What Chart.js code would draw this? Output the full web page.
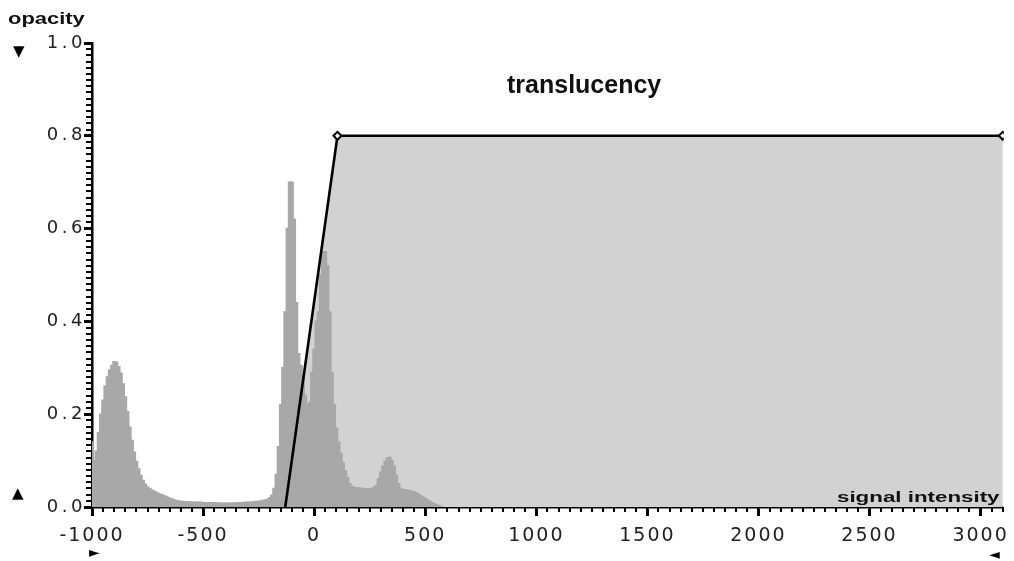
<!DOCTYPE html>
<html>
<head>
<meta charset="utf-8">
<title>translucency</title>
<script src="https://cdn.jsdelivr.net/npm/chart.js@4.4.1/dist/chart.umd.min.js"></script>
<style>
  html, body { margin: 0; padding: 0; background: #fff; }
  #wrap { position: relative; width: 1014px; height: 561px; overflow: hidden; }
  .note {
    position: absolute;
    font-family: "Liberation Sans", Arial, sans-serif;
    font-weight: bold;
    color: #111;
    line-height: 1;
    white-space: nowrap;
    transform-origin: 0 0;
  }
  .arrow {
    position: absolute;
    font-family: "DejaVu Sans", sans-serif;
    color: #000;
    line-height: 1;
  }
</style>
</head>
<body>
<div id="wrap">
  <canvas id="tfChart"></canvas>

  <div class="note" style="left:8px; top:9.6px; font-size:17px; transform:scaleX(1.29);">opacity</div>
  <div class="note" style="left:507px; top:71.8px; font-size:25px;">translucency</div>
  <div class="note" style="left:837px; top:489px; font-size:15.5px; transform:scaleX(1.44);">signal intensity</div>

  <span class="arrow" style="left:13px; top:44px; font-size:15px;">▼</span>
  <span class="arrow" style="left:12px; top:486px; font-size:15px;">▲</span>
  <span class="arrow" style="left:89px; top:545px; font-size:14px;">►</span>
  <span class="arrow" style="left:989px; top:547px; font-size:14px;">◄</span>
</div>

<script>
// ======================================================
// DATA
// ======================================================
// histogram of signal intensity: bin centres (10 wide) / relative frequency
const histIntensity = [
  -1000, -990, -980, -970, -960, -950, -940, -930, -920, -910,
  -900, -890, -880, -870, -860, -850, -840, -830, -820, -810,
  -800, -790, -780, -770, -760, -750, -740, -730, -720, -710,
  -700, -690, -680, -670, -660, -650, -640, -630, -620, -610,
  -600, -590, -580, -570, -560, -550, -540, -530, -520, -510,
  -500, -490, -480, -470, -460, -450, -440, -430, -420, -410,
  -400, -390, -380, -370, -360, -350, -340, -330, -320, -310,
  -300, -290, -280, -270, -260, -250, -240, -230, -220, -210,
  -200, -190, -180, -170, -160, -150, -140, -130, -120, -110,
  -100, -90, -80, -70, -60, -50, -40, -30, -20, -10,
  0, 10, 20, 30, 40, 50, 60, 70, 80, 90,
  100, 110, 120, 130, 140, 150, 160, 170, 180, 190,
  200, 210, 220, 230, 240, 250, 260, 270, 280, 290,
  300, 310, 320, 330, 340, 350, 360, 370, 380, 390,
  400, 410, 420, 430, 440, 450, 460, 470, 480, 490,
  500, 510, 520, 530, 540, 550, 560, 570
];
const histFrequency = [
  0.140, 0.100, 0.120, 0.160, 0.200, 0.230, 0.260, 0.280, 0.295, 0.305,
  0.313, 0.312, 0.302, 0.288, 0.265, 0.237, 0.205, 0.172, 0.143, 0.118,
  0.098, 0.082, 0.068, 0.057, 0.049, 0.043, 0.039, 0.036, 0.034, 0.031,
  0.029, 0.027, 0.025, 0.023, 0.021, 0.019, 0.017, 0.015, 0.014, 0.013,
  0.012, 0.012, 0.011, 0.011, 0.011, 0.010, 0.010, 0.010, 0.010, 0.010,
  0.009, 0.009, 0.009, 0.009, 0.009, 0.009, 0.009, 0.008, 0.008, 0.008,
  0.008, 0.008, 0.008, 0.008, 0.008, 0.009, 0.009, 0.009, 0.009, 0.010,
  0.010, 0.010, 0.010, 0.011, 0.012, 0.012, 0.013, 0.014, 0.015, 0.016,
  0.020, 0.025, 0.040, 0.070, 0.130, 0.220, 0.300, 0.420, 0.600, 0.700,
  0.700, 0.620, 0.440, 0.330, 0.305, 0.285, 0.240, 0.220, 0.225, 0.290,
  0.340, 0.400, 0.420, 0.500, 0.550, 0.550, 0.520, 0.420, 0.290, 0.220,
  0.170, 0.140, 0.115, 0.095, 0.078, 0.063, 0.050, 0.044, 0.042, 0.041,
  0.041, 0.040, 0.040, 0.039, 0.039, 0.039, 0.040, 0.042, 0.046, 0.060,
  0.075, 0.088, 0.098, 0.106, 0.107, 0.100, 0.088, 0.068, 0.050, 0.040,
  0.037, 0.037, 0.036, 0.035, 0.034, 0.032, 0.030, 0.027, 0.024, 0.021,
  0.018, 0.015, 0.012, 0.009, 0.007, 0.005, 0.003, 0.001
];

// translucency transfer function (control points)
const tfIntensity = [-130, 105, 3100];
const tfOpacity   = [0, 0.8, 0.8];

const xTickValues = [-1000, -500, 0, 500, 1000, 1500, 2000, 2500, 3000];
const yTickValues = [0, 0.2, 0.4, 0.6, 0.8, 1.0];

const xMinorStep = 50;
const yMinorStep = 0.2 / 15;


// ======================================================
// PLUGINS
// ======================================================
// small ticks between the labelled ones
const minorTicks = {
  id: "minorTicks",
  afterDraw(chart) {
    const { ctx, scales: { x, y } } = chart;
    ctx.save();
    ctx.strokeStyle = "#000";
    ctx.lineWidth = 2;

    for (let v = x.min; v <= x.max + 0.001; v += xMinorStep) {
      const px = Math.round(x.getPixelForValue(v));
      ctx.beginPath();
      ctx.moveTo(px, x.top);
      ctx.lineTo(px, x.top + 5);
      ctx.stroke();
    }

    for (let i = 0; i * yMinorStep <= y.max + 0.0001; i++) {
      const py = Math.round(y.getPixelForValue(i * yMinorStep));
      ctx.beginPath();
      ctx.moveTo(y.right - 6, py);
      ctx.lineTo(y.right, py);
      ctx.stroke();
    }
    ctx.restore();
  }
};

// wide digit spacing of the original tick labels
// (x labels are drawn before the datasets, y labels after: ticks.z = 1)
const tickSpacing = {
  id: "tickSpacing",
  beforeDraw(chart) { chart.ctx.letterSpacing = "2px"; },
  afterDatasetsDraw(chart) { chart.ctx.letterSpacing = "3.5px"; },
  afterDraw(chart) { chart.ctx.letterSpacing = "0px"; }
};


// ======================================================
// CHART
// ======================================================
document.addEventListener("DOMContentLoaded", () => {

  const histPoints = histIntensity.map((v, i) => ({ x: v, y: histFrequency[i] }));
  const tfPoints = tfIntensity.map((v, i) => ({ x: v, y: tfOpacity[i] }));

  new Chart(document.getElementById("tfChart"), {
    type: "line",
    data: {
      datasets: [
        {
          // transfer function outline (drawn on top)
          data: tfPoints,
          borderColor: "#000",
          borderWidth: 2.6,
          fill: false,
          tension: 0,
          pointStyle: "rectRot",
          pointRadius: [0, 4, 4],
          pointBackgroundColor: "#fff",
          pointBorderColor: "#000",
          pointBorderWidth: 2,
          clip: { left: 5, top: 5, right: 1, bottom: 0 },
          order: 0
        },
        {
          // histogram
          type: "bar",
          data: histPoints,
          backgroundColor: "#a8a8a8",
          borderWidth: 0,
          barPercentage: 1,
          categoryPercentage: 1,
          inflateAmount: 0.8,
          order: 1
        },
        {
          // area under the transfer function
          data: tfPoints,
          borderWidth: 0,
          borderColor: "rgba(0,0,0,0)",
          backgroundColor: "#d2d2d2",
          fill: "origin",
          tension: 0,
          pointRadius: 0,
          order: 2
        }
      ]
    },
    options: {
      responsive: true,
      maintainAspectRatio: false,
      animation: false,
      layout: {
        padding: { top: 43, right: 9, left: 0, bottom: 0 }
      },
      scales: {
        x: {
          type: "linear",
          min: -1000,
          max: 3100,
          offset: false,
          afterBuildTicks: scale => {
            scale.ticks = xTickValues.map(v => ({ value: v }));
          },
          afterFit: scale => { scale.height = 54; },
          border: { color: "#000", width: 2.5 },
          grid: {
            offset: false,
            drawOnChartArea: false,
            drawTicks: true,
            tickLength: 9,
            tickWidth: 3,
            tickColor: "#000"
          },
          ticks: {
            color: "#222",
            padding: 9,
            maxRotation: 0,
            autoSkip: false,
            font: { family: "DejaVu Sans", size: 19 },
            callback: v => String(v)
          }
        },
        y: {
          min: 0,
          max: 1,
          afterBuildTicks: scale => {
            scale.ticks = yTickValues.map(v => ({ value: v }));
          },
          afterFit: scale => { scale.width = 92; },
          border: { color: "#000", width: 2.5 },
          grid: {
            drawOnChartArea: false,
            drawTicks: true,
            tickLength: 8,
            tickWidth: 3,
            tickColor: "#000"
          },
          ticks: {
            z: 1,
            color: "#222",
            padding: -2,
            font: { family: "DejaVu Sans", size: 18 },
            callback: v => Number(v).toFixed(1)
          }
        }
      },
      plugins: {
        legend: { display: false },
        tooltip: { enabled: false },
        title: { display: false }
      }
    },
    plugins: [minorTicks, tickSpacing]
  });

});
</script>
</body>
</html>
